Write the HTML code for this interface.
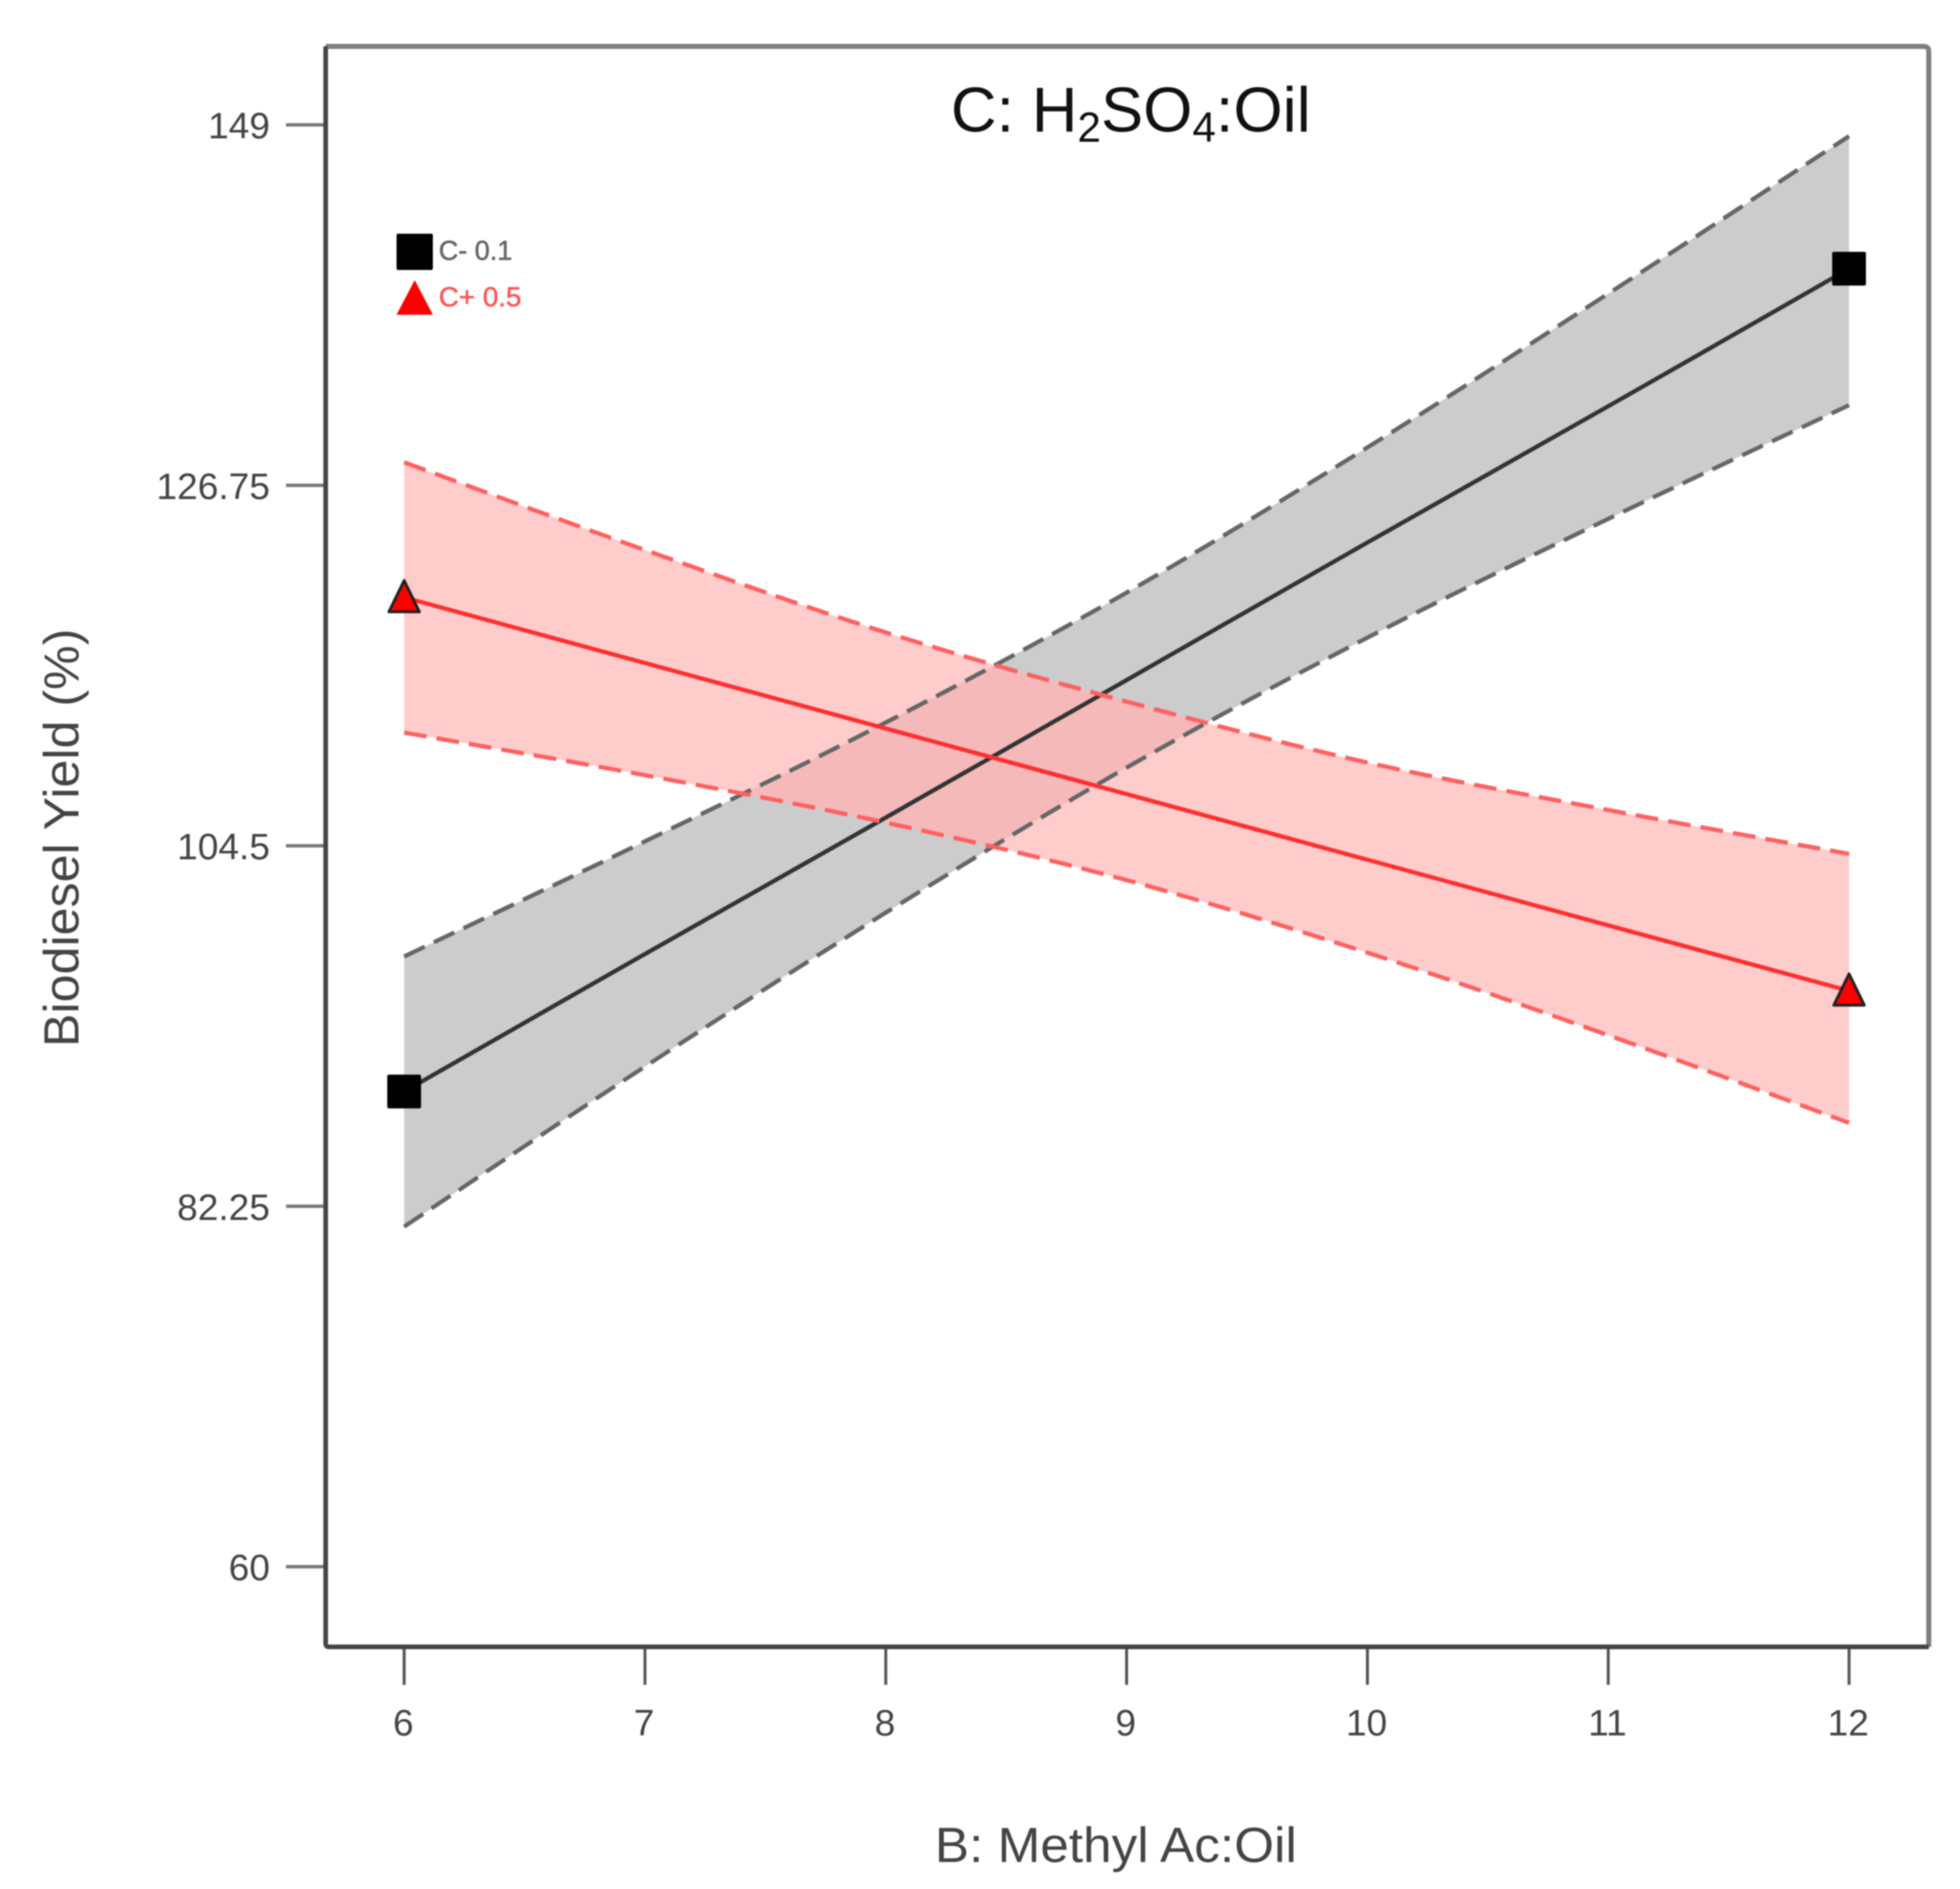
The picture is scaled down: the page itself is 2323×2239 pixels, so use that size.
<!DOCTYPE html>
<html lang="en">
<head>
<meta charset="utf-8">
<title>Biodiesel Yield interaction plot</title>
<style>
  html, body { margin: 0; padding: 0; background: #ffffff; }
  body { width: 2323px; height: 2239px; overflow: hidden; }
  #chart { display: block; filter: blur(0.8px); font-family: "Liberation Sans", sans-serif; }
</style>
</head>
<body>
<svg id="chart" xmlns="http://www.w3.org/2000/svg" width="2323" height="2239" viewBox="0 0 2323 2239">
  <rect x="0" y="0" width="2323" height="2239" fill="#ffffff"/>
  <g id="plot-layer"></g>
  <g id="axis-layer"></g>
  <path d="M386 55 H2280 Q2286 55 2286 61 V1952" fill="none" stroke="#808080" stroke-width="6"/>
  <path d="M386 55 V1948 Q386 1952 390 1952 H2286" fill="none" stroke="#444444" stroke-width="5.5"/>
  <text x="1127" y="156" font-size="75" fill="#111111">C: H<tspan font-size="50" dy="12">2</tspan><tspan dy="-12">SO</tspan><tspan font-size="50" dy="12">4</tspan><tspan dy="-12">:Oil</tspan></text>
  <text x="1108" y="2207" font-size="58" fill="#444444" textLength="429" lengthAdjust="spacingAndGlyphs">B: Methyl Ac:Oil</text>
  <text transform="translate(93 1241) rotate(-90)" x="0" y="0" font-size="58" fill="#444444" textLength="496" lengthAdjust="spacingAndGlyphs">Biodiesel Yield (%)</text>
  <g>
    <rect x="470" y="277" width="43" height="43" rx="2" fill="#000000"/>
    <text x="520" y="308" font-size="32" fill="#666666" stroke="#666666" stroke-width="0.6">C- 0.1</text>
    <polygon points="491.5,332 513,373 470,373" fill="#ff0000"/>
    <text x="520" y="363" font-size="32" fill="#ff5555" stroke="#ff5555" stroke-width="0.6" textLength="98" lengthAdjust="spacingAndGlyphs">C+ 0.5</text>
  </g>
</svg>
<script>
const xCategories = [6, 7, 8, 9, 10, 11, 12];
const yTickValues = [60, 82.25, 104.5, 126.75, 149];
const yTickLabels = ["60", "82.25", "104.5", "126.75", "149"];
const lowMean = [89.33, 97.82, 106.24, 114.73, 123.22, 131.63, 140.12];
const lowUpper = [97.67, 104.77, 112.11, 120.13, 129.09, 138.58, 148.3];
const lowLower = [80.99, 90.87, 100.37, 109.33, 117.35, 124.68, 131.7];
const highMean = [119.83, 115.78, 111.74, 107.69, 103.64, 99.59, 95.55];
const highUpper = [128.17, 122.76, 117.67, 113.40, 109.64, 106.71, 104.0];
const highLower = [111.49, 108.86, 105.93, 102.38, 97.90, 92.81, 87.40];

const SVG_NS = "http://www.w3.org/2000/svg";
const plotLayer = document.getElementById("plot-layer");
const axisLayer = document.getElementById("axis-layer");

function xScale(v) { return 479 + (v - 6) * (2191.5 - 479) / 6; }
function yScale(v) { return 1857 - (v - 60) * (1857 - 148) / 89; }

function make(tag, attrs, parent) {
  const node = document.createElementNS(SVG_NS, tag);
  Object.keys(attrs).forEach(function (k) { node.setAttribute(k, attrs[k]); });
  parent.appendChild(node);
  return node;
}

function toPoints(values) {
  return values.map(function (v, i) { return [xScale(xCategories[i]), yScale(v)]; });
}

function curveSegments(p) {
  let d = "";
  for (let i = 0; i < p.length - 1; i++) {
    const p0 = p[Math.max(i - 1, 0)], p1 = p[i], p2 = p[i + 1], p3 = p[Math.min(i + 2, p.length - 1)];
    const c1x = p1[0] + (p2[0] - p0[0]) / 6, c1y = p1[1] + (p2[1] - p0[1]) / 6;
    const c2x = p2[0] - (p3[0] - p1[0]) / 6, c2y = p2[1] - (p3[1] - p1[1]) / 6;
    d += " C" + c1x.toFixed(1) + " " + c1y.toFixed(1) + " " + c2x.toFixed(1) + " " + c2y.toFixed(1) + " " + p2[0].toFixed(1) + " " + p2[1].toFixed(1);
  }
  return d;
}

function linePath(values) {
  const p = toPoints(values);
  return "M" + p[0][0].toFixed(1) + " " + p[0][1].toFixed(1) + curveSegments(p);
}

function bandPath(upper, lower) {
  const u = toPoints(upper);
  const l = toPoints(lower).reverse();
  return "M" + u[0][0].toFixed(1) + " " + u[0][1].toFixed(1) + curveSegments(u) +
    " L" + l[0][0].toFixed(1) + " " + l[0][1].toFixed(1) + curveSegments(l) + " Z";
}

/* confidence bands */
const lowBandPath = bandPath(lowUpper, lowLower);
const highBandPath = bandPath(highUpper, highLower);

const lowBand = make("path", { d: lowBandPath, fill: "#cccccc" }, plotLayer);



const highBand = make("path", { d: highBandPath, fill: "#ffcccc" }, plotLayer);



const clipDef = make("clipPath", { id: "low-band-clip" }, plotLayer);
make("path", { d: lowBandPath }, clipDef);

const overlapBand = make("path", { d: highBandPath, fill: "#f5b9b9", "clip-path": "url(#low-band-clip)" }, plotLayer);



/* interval lines and means */
const lineBase = { fill: "none" };
function drawLine(values, color, width, dash) {
  const attrs = Object.assign({}, lineBase, { d: linePath(values), stroke: color, "stroke-width": width });
  if (dash) { attrs["stroke-dasharray"] = dash; }
  return make("path", attrs, plotLayer);
}

const lowUpperLine = drawLine(lowUpper, "#666666", 5, "27 12");



const lowLowerLine = drawLine(lowLower, "#666666", 5, "27 12");



const lowMeanLine = drawLine(lowMean, "#333333", 5, null);



const highUpperLine = drawLine(highUpper, "#ff6060", 5, "27 12");



const highLowerLine = drawLine(highLower, "#ff6060", 5, "27 12");



const highMeanLine = drawLine(highMean, "#ff2f2f", 5, null);



/* markers at the first and last category */
[0, xCategories.length - 1].forEach(function (i) {
  const cx = xScale(xCategories[i]);
  const sy = yScale(lowMean[i]);
  const square = make("rect", { x: cx - 20, y: sy - 20, width: 40, height: 40, rx: 2, fill: "#000000" }, plotLayer);
  
  

  const ty = yScale(highMean[i]);
  const pts = cx + "," + (ty - 20) + " " + (cx + 18) + "," + (ty + 17) + " " + (cx - 18) + "," + (ty + 17);
  const triangle = make("polygon", { points: pts, fill: "#ff0000", stroke: "#222222", "stroke-width": 3.5, "stroke-linejoin": "round" }, plotLayer);
  
  
});

/* y axis */
yTickValues.forEach(function (v, i) {
  const y = yScale(v);
  const tick = make("line", { x1: 339, x2: 386, y1: y, y2: y, stroke: "#777777", "stroke-width": 4 }, axisLayer);
  
  

  const label = make("text", { x: 320, y: y + 16, "text-anchor": "end", "font-size": 44, fill: "#444444" }, axisLayer);
  
  
  label.textContent = yTickLabels[i];
});

/* x axis */
xCategories.forEach(function (v) {
  const x = xScale(v);
  const tick = make("line", { x1: x, x2: x, y1: 1952, y2: 1997, stroke: "#555555", "stroke-width": 3.5 }, axisLayer);
  
  

  const label = make("text", { x: x - 1, y: 2057, "text-anchor": "middle", "font-size": 44, fill: "#444444" }, axisLayer);
  
  
  label.textContent = String(v);
});
</script>
</body>
</html>
